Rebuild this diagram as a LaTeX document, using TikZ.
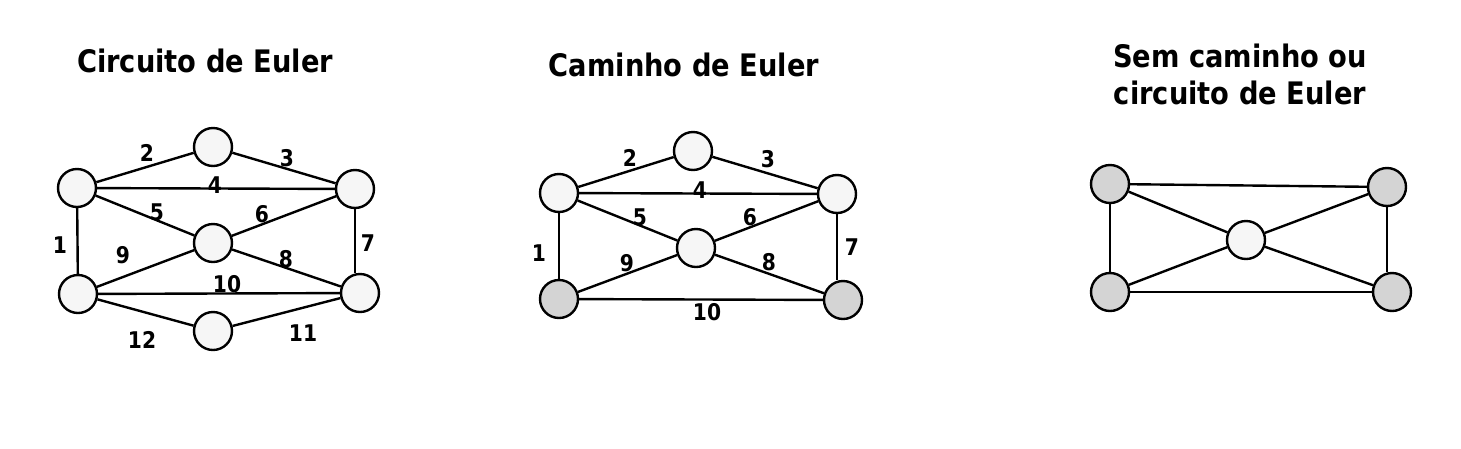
\documentclass[tikz,border=0pt]{standalone}
\usepackage{fontspec}
\setmainfont{DejaVu Sans}[FakeStretch=0.88]
\definecolor{lightn}{HTML}{F6F6F6}
\definecolor{grayn}{HTML}{D4D4D4}
\begin{document}
\begin{tikzpicture}[x=1pt,y=-1pt,
  vtx/.style={circle,draw=black,line width=2.4pt,fill=lightn,minimum size=38pt,inner sep=0pt},
  gvtx/.style={vtx,fill=grayn},
  edge/.style={line width=2.4pt},
  lbl/.style={font=\fontsize{23}{23}\selectfont\bfseries,inner sep=0pt},
  ttl/.style={font=\fontsize{31}{37}\selectfont\bfseries,align=center,inner sep=0pt}]
\useasboundingbox (0,0) rectangle (1461,448);
% titles
\node[ttl] (t1) at (205,61) {Circuito de Euler};
\node[ttl] (t2) at (684,65) {Caminho de Euler};
\node[ttl] (t3) at (1240,74) {Sem caminho ou\\circuito de Euler};
% graph 1
\node[vtx] (a1) at (77,188) {};
\node[vtx] (a2) at (213,147) {};
\node[vtx] (a3) at (355,189) {};
\node[vtx] (a4) at (213,243) {};
\node[vtx] (a5) at (78,294) {};
\node[vtx] (a6) at (360,293) {};
\node[vtx] (a7) at (213,331) {};
\draw[edge] (a1)--(a5);
\draw[edge] (a1)--(a2);
\draw[edge] (a2)--(a3);
\draw[edge] (a1)--(a3);
\draw[edge] (a1)--(a4);
\draw[edge] (a4)--(a3);
\draw[edge] (a3.south)--(a3.south |- a6.north);
\draw[edge] (a4)--(a6);
\draw[edge] (a5)--(a4);
\draw[edge] (a5)--(a6);
\draw[edge] (a7)--(a6);
\draw[edge] (a5)--(a7);
\node[lbl] (l11) at (60,245) {1};
\node[lbl] (l12) at (147,153) {2};
\node[lbl] (l13) at (287,158) {3};
\node[lbl] (l14) at (215,185) {4};
\node[lbl] (l15) at (157,212) {5};
\node[lbl] (l16) at (262,214) {6};
\node[lbl] (l17) at (368,243) {7};
\node[lbl] (l18) at (286,259) {8};
\node[lbl] (l19) at (123,255) {9};
\node[lbl] (l110) at (227,284) {10};
\node[lbl] (l111) at (303,333) {11};
\node[lbl] (l112) at (142,340) {12};
% graph 2
\node[vtx] (b1) at (559,193) {};
\node[vtx] (b2) at (693,151) {};
\node[vtx] (b3) at (837,194) {};
\node[vtx] (b4) at (696,248) {};
\node[gvtx] (b5) at (559,299) {};
\node[gvtx] (b6) at (843,300) {};
\draw[edge] (b1)--(b5);
\draw[edge] (b1)--(b2);
\draw[edge] (b2)--(b3);
\draw[edge] (b1)--(b3);
\draw[edge] (b1)--(b4);
\draw[edge] (b4)--(b3);
\draw[edge] (b3.south)--(b3.south |- b6.north);
\draw[edge] (b4)--(b6);
\draw[edge] (b5)--(b4);
\draw[edge] (b5)--(b6);
\node[lbl] (l21) at (539,253) {1};
\node[lbl] (l22) at (630,158) {2};
\node[lbl] (l23) at (768,159) {3};
\node[lbl] (l24) at (700,190) {4};
\node[lbl] (l25) at (640,217) {5};
\node[lbl] (l26) at (750,217) {6};
\node[lbl] (l27) at (852,247) {7};
\node[lbl] (l28) at (769,262) {8};
\node[lbl] (l29) at (627,263) {9};
\node[lbl] (l210) at (707,312) {10};
% graph 3
\node[gvtx] (c1) at (1110,184) {};
\node[gvtx] (c2) at (1387,187) {};
\node[vtx] (c3) at (1246,240) {};
\node[gvtx] (c4) at (1110,292) {};
\node[gvtx] (c5) at (1392,292) {};
\draw[edge] (c1)--(c2);
\draw[edge] (c1)--(c4);
\draw[edge] (c2.south)--(c2.south |- c5.north);
\draw[edge] (c4)--(c5);
\draw[edge] (c1)--(c3);
\draw[edge] (c3)--(c2);
\draw[edge] (c4)--(c3);
\draw[edge] (c3)--(c5);
\end{tikzpicture}
\end{document}
